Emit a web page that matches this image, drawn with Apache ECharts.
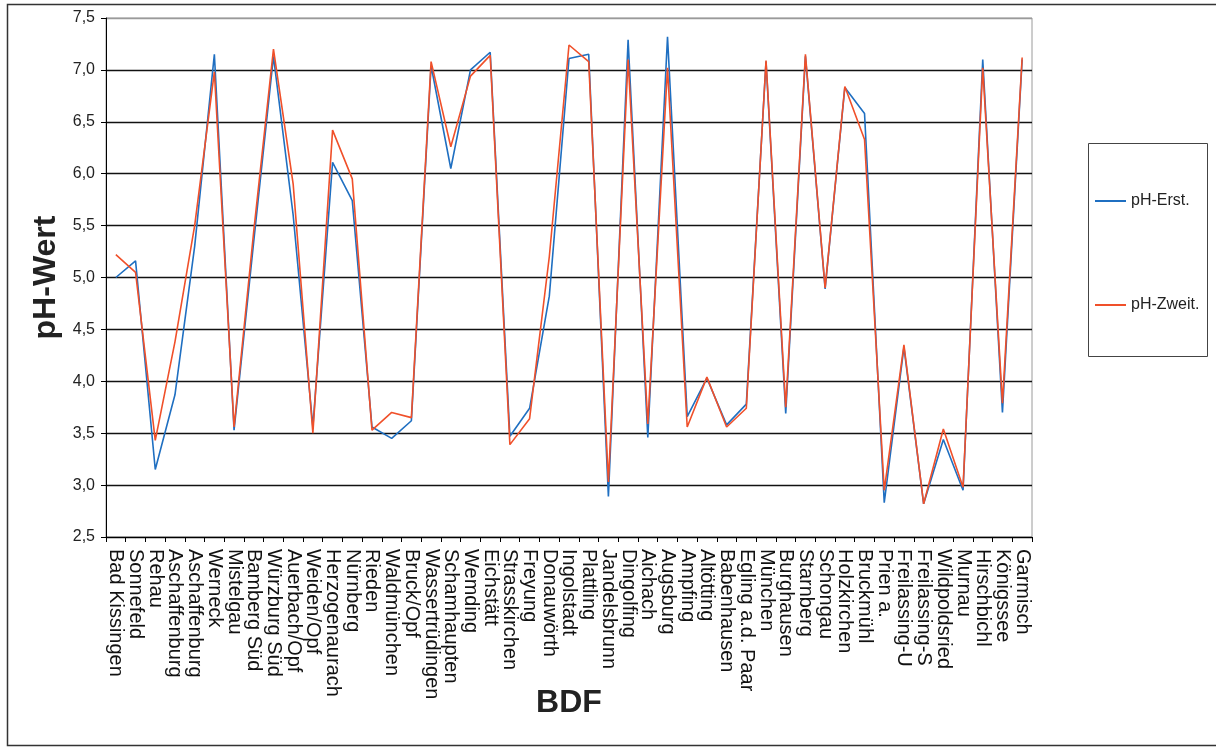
<!DOCTYPE html>
<html>
<head>
<meta charset="utf-8">
<title>pH-Wert</title>
<script src="https://cdn.jsdelivr.net/npm/echarts@6/dist/echarts.min.js"></script>
<style>
  html, body { margin: 0; padding: 0; background: #fff; }
  #chart { width: 1216px; height: 749px; }
</style>
</head>
<body>
<div id="chart"></div>
<script>
  // BDF Standorte
  var categories = ['Bad Kissingen', 'Sonnefeld', 'Rehau', 'Aschaffenburg', 'Aschaffenburg', 'Werneck',
    'Mistelgau', 'Bamberg Süd', 'Würzburg Süd', 'Auerbach/Opf', 'Weiden/Opf', 'Herzogenaurach', 'Nürnberg',
    'Rieden', 'Waldmünchen', 'Bruck/Opf', 'Wassertrüdingen', 'Schamhaupten', 'Wemding', 'Eichstätt',
    'Strasskirchen', 'Freyung', 'Donauwörth', 'Ingolstadt', 'Plattling', 'Jandelsbrunn', 'Dingolfing',
    'Aichach', 'Augsburg', 'Ampfing', 'Altötting', 'Babenhausen', 'Egling a.d. Paar', 'München',
    'Burghausen', 'Starnberg', 'Schongau', 'Holzkirchen', 'Bruckmühl', 'Prien a.', 'Freilassing-U',
    'Freilassing-S', 'Wildpoldsried', 'Murnau', 'Hirschbichl', 'Königssee', 'Garmisch'];

  var phErst = [5.00, 5.16, 3.15, 3.87, 5.30, 7.15, 3.53, 5.35, 7.13, 5.60, 3.56, 6.11, 5.74,
    3.56, 3.45, 3.62, 7.04, 6.05, 7.00, 7.17, 3.47, 3.74, 4.82, 7.11, 7.15, 2.89, 7.29,
    3.46, 7.32, 3.66, 4.03, 3.58, 3.78, 7.08, 3.69, 7.13, 4.89, 6.83, 6.58, 2.83, 4.33,
    2.82, 3.44, 2.95, 7.10, 3.70, 7.10];

  var phZweit = [5.22, 5.05, 3.43, 4.38, 5.50, 6.98, 3.56, 5.45, 7.20, 5.90, 3.50, 6.42, 5.95,
    3.53, 3.70, 3.65, 7.08, 6.26, 6.94, 7.14, 3.39, 3.64, 5.20, 7.24, 7.08, 3.03, 7.10,
    3.59, 7.02, 3.56, 4.04, 3.56, 3.74, 7.09, 3.75, 7.15, 4.90, 6.84, 6.33, 2.95, 4.35,
    2.82, 3.54, 2.98, 7.02, 3.79, 7.12];

  var yMin = 2.5, yMax = 7.5, yStep = 0.5;

  var FONT = '"Liberation Sans", Arial, sans-serif';

  // 7,5-Linie grau wie der Rahmen, sonst schwarz
  var gridColors = [];
  for (var v = yMin; v <= yMax + 1e-9; v += yStep) {
    gridColors.push(v > yMax - 1e-9 ? '#9a9a9a' : '#111');
  }

  var option = {
    animation: false,
    backgroundColor: '#fff',
    textStyle: { fontFamily: FONT },
    grid: {
      left: 106,
      right: 184,
      top: 18,
      bottom: 212,
      show: true,
      borderColor: '#9a9a9a',
      borderWidth: 1
    },
    legend: {
      orient: 'vertical',
      left: 1090,
      top: 188,
      itemGap: 88,
      itemWidth: 31,
      itemHeight: 2,
      icon: 'rect',
      textStyle: { fontFamily: FONT, fontSize: 16, color: '#222' },
      data: ['pH-Erst.', 'pH-Zweit.']
    },
    xAxis: {
      type: 'category',
      data: categories,
      boundaryGap: true,
      name: 'BDF',
      nameLocation: 'middle',
      nameGap: 150,
      nameMoveOverlap: false,
      nameTextStyle: { fontFamily: FONT, fontSize: 32, fontWeight: 'bold', color: '#222' },
      axisLine: { lineStyle: { color: '#000', width: 1 } },
      axisTick: { show: true, length: 5, lineStyle: { color: '#000' } },
      axisLabel: {
        interval: 0,
        rotate: -90,
        margin: 12,
        fontSize: 20,
        fontFamily: FONT,
        color: '#111'
      },
      splitLine: { show: false }
    },
    yAxis: {
      type: 'value',
      min: yMin,
      max: yMax,
      interval: yStep,
      name: 'pH-Wert',
      nameLocation: 'middle',
      nameGap: 44,
      nameRotate: 90,
      nameTextStyle: { fontFamily: FONT, fontSize: 32, fontWeight: 'bold', color: '#222' },
      axisLine: { show: true, lineStyle: { color: '#000', width: 1 } },
      axisTick: { show: true, length: 5, lineStyle: { color: '#000' } },
      axisLabel: {
        margin: 11,
        fontSize: 16,
        fontFamily: FONT,
        color: '#222',
        formatter: function (val) {
          return val.toFixed(1).replace('.', ',');
        }
      },
      splitLine: { show: true, lineStyle: { color: gridColors, width: 1.3 } }
    },
    series: [{
      name: 'pH-Erst.',
      type: 'line',
      data: phErst,
      symbol: 'none',
      itemStyle: { color: '#1f6fc1' },
      lineStyle: { color: '#1f6fc1', width: 1.6 }
    }, {
      name: 'pH-Zweit.',
      type: 'line',
      data: phZweit,
      symbol: 'none',
      itemStyle: { color: '#f0502a' },
      lineStyle: { color: '#f0502a', width: 1.6 }
    }],
    graphic: [{
      // äußerer Rahmen
      type: 'rect',
      silent: true,
      shape: { x: 7.5, y: 4.5, width: 1215, height: 741 },
      style: { fill: null, stroke: '#333', lineWidth: 1.5 }
    }, {
      // Legendenrahmen
      type: 'rect',
      silent: true,
      shape: { x: 1088.5, y: 143.5, width: 119, height: 213 },
      style: { fill: null, stroke: '#444', lineWidth: 1 }
    }]
  };

  echarts.init(document.getElementById('chart'), null, { renderer: 'canvas' }).setOption(option);
</script>
</body>
</html>
